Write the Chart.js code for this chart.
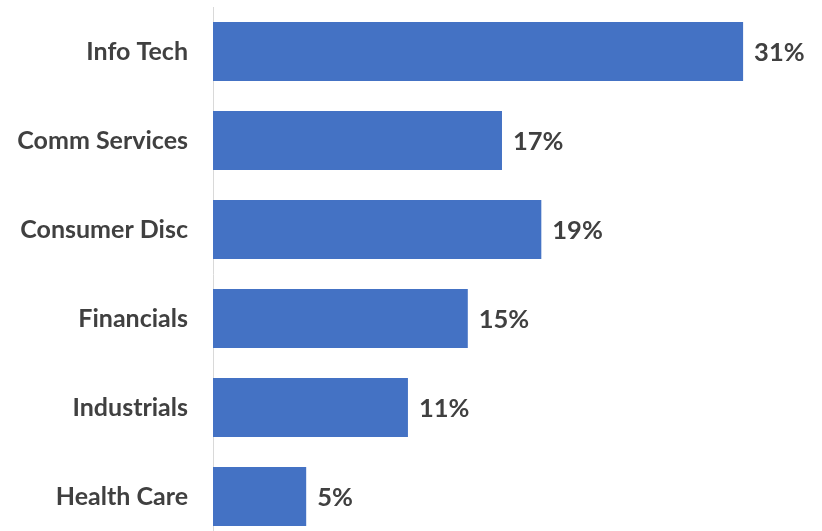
<!DOCTYPE html>
<html>
<head>
<meta charset="utf-8">
<script src="https://cdn.jsdelivr.net/npm/chart.js@4"></script>
<style>
  html, body { margin: 0; padding: 0; background: #fff; overflow: hidden; }
  #wrap { position: relative; width: 822px; height: 541px; }
</style>
</head>
<body>
<div id="wrap"><canvas id="chart"></canvas></div>
<script>
// sector weights, percent
const sectors = ['Info Tech', 'Comm Services', 'Consumer Disc', 'Financials', 'Industrials', 'Health Care'];
const weights = [31.0, 16.9, 19.2, 14.9, 11.4, 5.45];

const textColor = '#404040';
const barColor = '#4472C4';

// draws the "31%" style labels at the end of each bar
const valueLabels = {
    id: 'valueLabels',
    afterDatasetsDraw(chart) {
        const ctx = chart.ctx;
        const meta = chart.getDatasetMeta(0);
        ctx.save();
        ctx.font = 'bold 25.5px Lato';
        ctx.fillStyle = textColor;
        ctx.textAlign = 'left';
        ctx.textBaseline = 'middle';
        meta.data.forEach((bar, i) => {
            ctx.fillText(Math.round(weights[i]) + '%', bar.x + 11, bar.y + 1);
        });
        ctx.restore();
    }
};

new Chart(document.getElementById('chart'), {
    type: 'bar',
    data: {
        labels: sectors,
        datasets: [{
            data: weights,
            backgroundColor: barColor,
            borderWidth: 0,
            barPercentage: 0.665,
            categoryPercentage: 1.0
        }]
    },
    options: {
        indexAxis: 'y',
        responsive: true,
        maintainAspectRatio: false,
        animation: false,
        layout: { padding: { top: 7, right: 10.5, bottom: 0, left: 0 } },
        plugins: {
            legend: { display: false },
            tooltip: { enabled: false }
        },
        scales: {
            x: {
                display: false,
                min: 0,
                max: 35
            },
            y: {
                grid: { display: false, drawTicks: false },
                border: { display: true, color: '#d9d9d9', width: 1 },
                ticks: {
                    color: textColor,
                    padding: 25,
                    font: { family: 'Lato', size: 25, weight: 'bold' }
                },
                afterFit(scale) {
                    scale.width = 213;
                    scale.paddingTop = 0;
                    scale.paddingBottom = 0;
                }
            }
        }
    },
    plugins: [valueLabels]
});
</script>
</body>
</html>
